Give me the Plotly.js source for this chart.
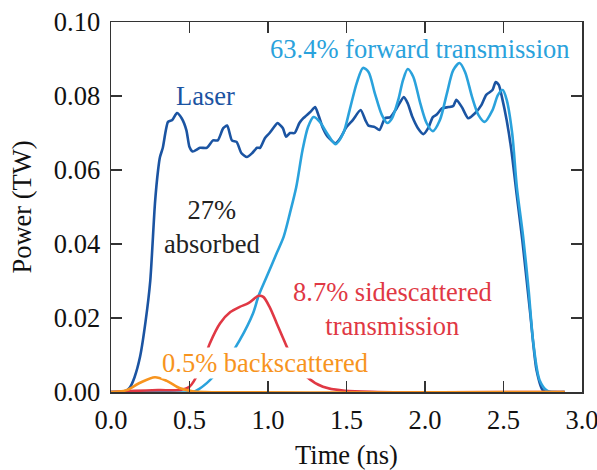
<!DOCTYPE html>
<html>
<head>
<meta charset="utf-8">
<script src="https://cdn.plot.ly/plotly-3.0.1.min.js"></script>
<style>html,body{margin:0;padding:0;background:#fff;}#plot{width:597px;height:470px;}</style>
</head>
<body>
<div id="plot"></div>
<script>
// Laser power (TW) vs time (ns)
const laserT = [0,0.05,0.10,0.12,0.15,0.185,0.22,0.25,0.28,0.30,0.312,0.33,0.363,0.39,0.42,0.45,0.48,0.50,0.52,0.567,0.61,0.65,0.68,0.715,0.74,0.77,0.80,0.83,0.866,0.90,0.93,0.95,0.98,1.01,1.045,1.06,1.095,1.115,1.14,1.17,1.20,1.225,1.27,1.30,1.32,1.35,1.38,1.43,1.46,1.50,1.54,1.59,1.62,1.64,1.68,1.71,1.745,1.78,1.82,1.865,1.89,1.92,1.955,1.99,2.02,2.05,2.075,2.11,2.15,2.18,2.20,2.235,2.275,2.32,2.36,2.39,2.43,2.45,2.47,2.49,2.52,2.55,2.585,2.62,2.67,2.71,2.75,2.80,2.89];
const laserP = [0,0,0.0004,0.0012,0.004,0.0095,0.019,0.030,0.051,0.060,0.0635,0.066,0.073,0.0735,0.0754,0.074,0.0708,0.0662,0.065,0.066,0.066,0.068,0.068,0.0713,0.072,0.068,0.0676,0.0646,0.0635,0.0646,0.066,0.066,0.0686,0.070,0.072,0.0727,0.0713,0.069,0.070,0.070,0.0727,0.074,0.0757,0.077,0.075,0.0713,0.069,0.0672,0.0686,0.0716,0.0735,0.0762,0.0735,0.072,0.0716,0.0708,0.074,0.0743,0.0767,0.0797,0.078,0.0743,0.0713,0.0697,0.0713,0.0743,0.075,0.0767,0.077,0.0773,0.079,0.077,0.074,0.0754,0.0776,0.0803,0.0816,0.0838,0.083,0.0797,0.0735,0.0654,0.053,0.041,0.0213,0.006,0.0005,0,0];
// Forward transmission
const fwdT = [0,0.3,0.52,0.56,0.61,0.67,0.74,0.82,0.905,0.94,0.99,1.055,1.10,1.14,1.18,1.22,1.255,1.29,1.33,1.375,1.43,1.48,1.52,1.565,1.605,1.64,1.68,1.725,1.76,1.79,1.83,1.86,1.89,1.925,1.97,2.01,2.05,2.095,2.14,2.18,2.22,2.255,2.30,2.34,2.38,2.43,2.465,2.495,2.52,2.555,2.585,2.625,2.66,2.69,2.73,2.78,2.89];
const fwdP = [0,0,0,0.0008,0.0024,0.005,0.0086,0.014,0.0213,0.026,0.031,0.0375,0.042,0.0484,0.0554,0.0654,0.0716,0.0743,0.073,0.070,0.067,0.070,0.0762,0.0835,0.0876,0.0865,0.0808,0.0749,0.0727,0.074,0.079,0.0843,0.0873,0.0852,0.078,0.0727,0.0705,0.0735,0.0808,0.087,0.0889,0.0865,0.0797,0.0749,0.073,0.0762,0.0803,0.0816,0.079,0.070,0.0554,0.042,0.0276,0.0132,0.0032,0.0003,0];
// Sidescattered transmission
const sideT = [0,0.15,0.30,0.45,0.50,0.567,0.63,0.695,0.76,0.82,0.875,0.94,0.97,1.01,1.055,1.11,1.16,1.25,1.35,1.49,1.70,2.89];
const sideP = [0,0.0003,0.0005,0.0006,0.0014,0.006,0.0132,0.0186,0.0216,0.023,0.024,0.026,0.0257,0.023,0.0186,0.0132,0.0086,0.004,0.0014,0.0003,0,0];
// Backscattered
const backT = [0,0.05,0.10,0.185,0.28,0.355,0.44,0.52,0.60,2.89];
const backP = [0,0.0001,0.0005,0.0025,0.004,0.003,0.001,0.0002,0,0];

const colLaser = '#1b54a2', colFwd = '#2aa2dc', colSide = '#e03844', colBack = '#f7941e';
const fontFam = 'Liberation Serif';
const fs = 26.5;

const traces = [
  {x: laserT, y: laserP, mode: 'lines', line: {color: colLaser, width: 2.6, shape: 'spline', smoothing: 0.6}},
  {x: fwdT, y: fwdP, mode: 'lines', line: {color: colFwd, width: 2.6, shape: 'spline', smoothing: 0.8}},
  {x: sideT, y: sideP, mode: 'lines', line: {color: colSide, width: 2.6, shape: 'spline', smoothing: 0.8}},
  {x: backT, y: backP, mode: 'lines', line: {color: colBack, width: 2.6, shape: 'spline', smoothing: 0.8}}
];

const axisCommon = {
  showgrid: false, zeroline: false, showline: true, linecolor: '#333', linewidth: 1.5,
  mirror: 'ticks', ticks: 'inside', ticklen: 11, tickwidth: 1.5, tickcolor: '#333',
  ticklabeloverflow: 'allow',
  tickfont: {family: fontFam, size: fs, color: '#111'}
};

const layout = {
  width: 597, height: 470,
  margin: {l: 111, r: 15, t: 22, b: 78},
  paper_bgcolor: '#fff', plot_bgcolor: '#fff',
  showlegend: false,
  font: {family: fontFam, size: fs, color: '#111'},
  xaxis: Object.assign({}, axisCommon, {range: [0, 3.0], tickvals: [0,0.5,1.0,1.5,2.0,2.5,3.0], ticktext: ['0.0','0.5','1.0','1.5','2.0','2.5','3.0'],
    ticklabelstandoff: 4,
    title: {text: 'Time (ns)', font: {family: fontFam, size: fs, color: '#111'}, standoff: 14}}),
  yaxis: Object.assign({}, axisCommon, {range: [0, 0.10], tickvals: [0,0.02,0.04,0.06,0.08,0.10], ticktext: ['0.00','0.02','0.04','0.06','0.08','0.10'],
    ticklabelstandoff: 4,
    title: {text: 'Power (TW)', font: {family: fontFam, size: fs, color: '#111'}, standoff: 14}}),
  annotations: [
    {x: 0.605, y: 0.080, text: 'Laser', showarrow: false, font: {family: fontFam, size: fs, color: colLaser}},
    {x: 1.97, y: 0.0927, text: '63.4% forward transmission', showarrow: false, font: {family: fontFam, size: fs, color: colFwd}},
    {x: 0.643, y: 0.0446, text: '27%<br>absorbed', showarrow: false, font: {family: fontFam, size: fs, color: '#222'}},
    {x: 1.79, y: 0.0224, text: '8.7% sidescattered<br>transmission', showarrow: false, font: {family: fontFam, size: fs, color: colSide}},
    {x: 0.98, y: 0.0078, text: '0.5% backscattered', showarrow: false, bgcolor: '#ffffff', borderpad: 0, font: {family: fontFam, size: fs, color: colBack}}
  ]
};

Plotly.newPlot('plot', traces, layout, {displayModeBar: false, staticPlot: true});
</script>
</body>
</html>
